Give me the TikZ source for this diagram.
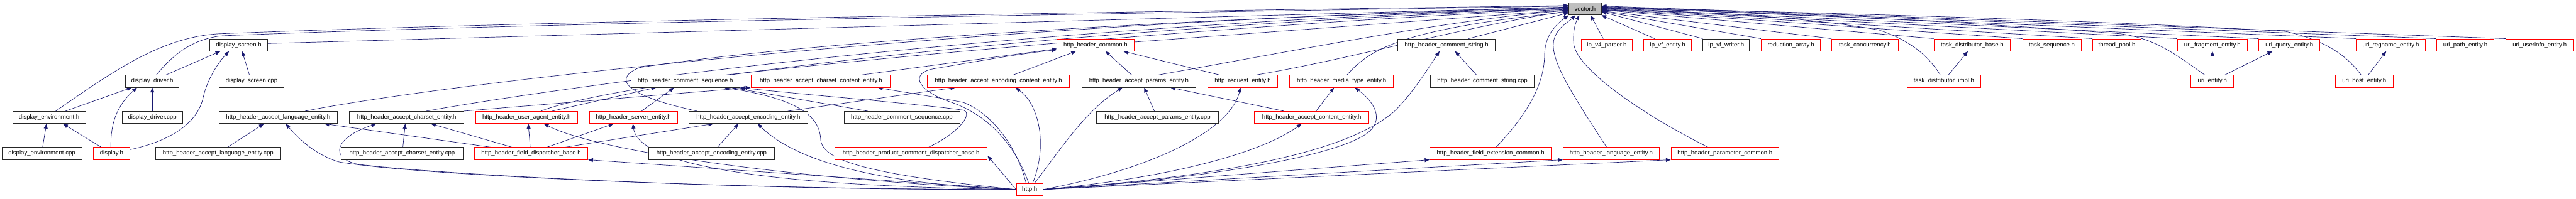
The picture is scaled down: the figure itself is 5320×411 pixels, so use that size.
\documentclass[tikz,border=0pt]{standalone}
\usepackage{fontspec}
\setmainfont{Liberation Sans}
\usetikzlibrary{arrows.meta}
\definecolor{edgec}{RGB}{25,25,112}
\definecolor{redc}{RGB}{255,0,0}
\definecolor{grayc}{RGB}{191,191,191}
\pgfdeclarelayer{bg}
\pgfsetlayers{bg,main}
\newcommand\nd[6]{\node[#1, minimum width={(#4-#3)*1pt}] (#2) at ({(#3+#4)/2},#5) {#6};}
\begin{document}
\begin{tikzpicture}[x=1pt,y=-1pt,
  bk/.style={draw=black!85, line width=1.2pt, rectangle, minimum height=25pt, inner sep=0pt, fill=white, font=\fontsize{12.5}{15}\selectfont},
  rd/.style={bk, draw=redc},
  edge/.style={draw=edgec, line width=0.9pt, -{Triangle[length=10pt,width=8pt]}},
]
\useasboundingbox (0,0) rectangle (5320,411);
% ---------- nodes ----------
\nd{bk,fill=grayc}{vec}{3240}{3307}{18.5}{vector.h}
% row 1
\nd{bk}{dscr}{433}{553}{93}{display\_screen.h}
\nd{rd}{hcommon}{2183}{2342}{93}{http\_header\_common.h}
\nd{bk}{cstr}{2887}{3088}{93}{http\_header\_comment\_string.h}
\nd{rd}{ipv4}{3266}{3371}{93}{ip\_v4\_parser.h}
\nd{rd}{ipvfe}{3395}{3493}{93}{ip\_vf\_entity.h}
\nd{bk}{ipvfw}{3517}{3613}{93}{ip\_vf\_writer.h}
\nd{rd}{redarr}{3637}{3760}{93}{reduction\_array.h}
\nd{rd}{tconc}{3783}{3920}{93}{task\_concurrency.h}
\nd{rd}{tdb}{3994}{4152}{93}{task\_distributor\_base.h}
\nd{rd}{tseq}{4177}{4298}{93}{task\_sequence.h}
\nd{rd}{tpool}{4322}{4422}{93}{thread\_pool.h}
\nd{rd}{ufrag}{4497}{4641}{93}{uri\_fragment\_entity.h}
\nd{rd}{uquery}{4665}{4791}{93}{uri\_query\_entity.h}
\nd{rd}{uregn}{4866}{5009}{93}{uri\_regname\_entity.h}
\nd{rd}{upath}{5032}{5151}{93}{uri\_path\_entity.h}
\nd{rd}{uuser}{5175}{5315}{93}{uri\_userinfo\_entity.h}
% row 2
\nd{bk}{ddrv}{259}{370}{168}{display\_driver.h}
\nd{bk}{dscrcpp}{452}{587}{168}{display\_screen.cpp}
\nd{bk}{cseq}{1303}{1528}{168}{http\_header\_comment\_sequence.h}
\nd{rd}{accc}{1552}{1839}{168}{http\_header\_accept\_charset\_content\_entity.h}
\nd{rd}{aecc}{1915}{2209}{168}{http\_header\_accept\_encoding\_content\_entity.h}
\nd{bk}{aparams}{2234}{2470}{168}{http\_header\_accept\_params\_entity.h}
\nd{rd}{reqent}{2494}{2639}{168}{http\_request\_entity.h}
\nd{rd}{media}{2663}{2878}{168}{http\_header\_media\_type\_entity.h}
\nd{bk}{cstrcpp}{2954}{3169}{168}{http\_header\_comment\_string.cpp}
\nd{rd}{tdi}{3938}{4091}{168}{task\_distributor\_impl.h}
\nd{rd}{uent}{4525}{4613}{168}{uri\_entity.h}
\nd{rd}{uhost}{4823}{4942}{168}{uri\_host\_entity.h}
% row 3
\nd{bk}{denv}{26}{177}{243}{display\_environment.h}
\nd{bk}{ddrvcpp}{252}{377}{243}{display\_driver.cpp}
\nd{bk}{alang}{452}{697}{243}{http\_header\_accept\_language\_entity.h}
\nd{bk}{acs}{722}{958}{243}{http\_header\_accept\_charset\_entity.h}
\nd{rd}{uagent}{982}{1193}{243}{http\_header\_user\_agent\_entity.h}
\nd{rd}{server}{1217}{1399}{243}{http\_header\_server\_entity.h}
\nd{bk}{aenc}{1423}{1668}{243}{http\_header\_accept\_encoding\_entity.h}
\nd{bk}{cseqcpp}{1743}{1982}{243}{http\_header\_comment\_sequence.cpp}
\nd{bk}{aparamscpp}{2265}{2516}{243}{http\_header\_accept\_params\_entity.cpp}
\nd{rd}{acont}{2591}{2827}{243}{http\_header\_accept\_content\_entity.h}
% row 4
\nd{bk}{denvcpp}{4}{169}{317.5}{display\_environment.cpp}
\nd{rd}{disp}{193}{268}{317.5}{display.h}
\nd{bk}{alangcpp}{321}{580}{317.5}{http\_header\_accept\_language\_entity.cpp}
\nd{bk}{acscpp}{705}{956}{317.5}{http\_header\_accept\_charset\_entity.cpp}
\nd{rd}{fdb}{980}{1214}{317.5}{http\_header\_field\_dispatcher\_base.h}
\nd{bk}{aenccpp}{1340}{1599}{317.5}{http\_header\_accept\_encoding\_entity.cpp}
\nd{rd}{pcdb}{1724}{2039}{317.5}{http\_header\_product\_comment\_dispatcher\_base.h}
\nd{rd}{fext}{2953}{3204}{317.5}{http\_header\_field\_extension\_common.h}
\nd{rd}{lang}{3228}{3427}{317.5}{http\_header\_language\_entity.h}
\nd{rd}{param}{3451}{3674}{317.5}{http\_header\_parameter\_common.h}
% row 5
\nd{rd}{http}{2099}{2154}{392}{http.h}
% ---------- edges ----------
\begin{pgfonlayer}{bg}
\begin{scope}[every path/.append style={edge}]
% display group
\draw ([xshift=13.5pt]denv.north) .. controls (230,150) and (330,78) .. (450,70) .. controls (1200,40) and (2500,22) .. ([yshift=7pt]vec.west);
\draw ([xshift=8.5pt]ddrv.north) .. controls (360,110) and (400,80) .. (460,74) .. controls (1200,44) and (2500,25) .. ([yshift=6pt]vec.west);
\draw ([xshift=28.5pt]ddrv.north) -- ([xshift=-38pt]dscr.south);
\draw ([yshift=3pt]dscr.east) -- ([yshift=4pt]vec.west);
\draw ([xshift=-4.5pt]dscrcpp.north) -- ([xshift=7pt]dscr.south);
\draw ([yshift=8pt]disp.east) .. controls (360,290) and (410,250) .. (420,200) .. controls (428,165) and (450,130) .. ([xshift=-20pt]dscr.south);
\draw ([xshift=33.5pt]denv.north) -- ([xshift=-42.5pt]ddrv.south);
\draw ([xshift=-1.5pt]disp.north) .. controls (228,250) and (245,215) .. ([xshift=-31.5pt]ddrv.south);
\draw (ddrvcpp.north) -- (ddrv.south);
\draw ([xshift=1.5pt]denvcpp.north) -- ([xshift=-5.5pt]denv.south);
\draw ([xshift=-21.5pt]disp.north) -- ([xshift=28.5pt]denv.south);
% accept language / charset
\draw ([xshift=55.5pt]alang.north) .. controls (900,175) and (2000,45) .. ([yshift=3pt]vec.west);
\draw ([xshift=19.5pt]alangcpp.north) -- ([xshift=-29.5pt]alang.south);
\draw (http.west) .. controls (1500,392) and (850,362) .. (700,335) .. controls (650,320) and (615,285) .. ([xshift=15.5pt]alang.south);
\draw ([xshift=-84pt]fdb.north) -- ([xshift=95.5pt]alang.south);
\draw ([xshift=40pt]acs.north) .. controls (1100,190) and (2000,55) .. ([yshift=2pt]vec.west);
\draw ([xshift=1.5pt]acscpp.north) -- ([xshift=-3pt]acs.south);
\draw (http.west) .. controls (1500,394) and (900,360) .. (740,340) .. controls (680,328) and (690,285) .. ([xshift=-63pt]acs.south);
\draw ([xshift=-40pt]fdb.north) -- ([xshift=50pt]acs.south);
\draw ([xshift=117pt]acs.north) -- ([xshift=-145.5pt]accc.south);
% user agent / server / dispatcher
\draw ([xshift=29.5pt]uagent.north) .. controls (1250,175) and (2100,60) .. ([yshift=1pt]vec.west);
\draw ([xshift=52.5pt]uagent.north) -- ([xshift=-60.5pt]cseq.south);
\draw ([xshift=-2pt]fdb.north) -- ([xshift=3.5pt]uagent.south);
\draw (http.west) .. controls (1700,375) and (1250,320) .. ([xshift=35.5pt]uagent.south);
\draw ([xshift=33pt]fdb.north) -- ([xshift=-41pt]server.south);
\draw ([xshift=17pt]server.north) -- ([xshift=-23.5pt]cseq.south);
\draw (http.west) .. controls (1600,385) and (1320,345) .. ([xshift=-1pt]server.south);
\draw (http.west) -- (fdb.south east);
\draw ([xshift=71pt]fdb.north) -- ([xshift=-72.5pt]aenc.south);
% accept encoding / comment sequence
\draw ([xshift=-105.5pt]aenc.north) .. controls (1300,200) and (1260,165) .. (1320,140) .. controls (1700,80) and (2600,30) .. (vec.west);
\draw ([xshift=81.5pt]aenc.north) -- ([xshift=-89pt]aecc.south);
\draw ([xshift=12.5pt]aenccpp.north) -- ([xshift=-20.5pt]aenc.south);
\draw (http.west) .. controls (1800,380) and (1640,330) .. ([xshift=19.5pt]aenc.south);
\draw ([xshift=84.5pt]cseq.north) .. controls (1900,110) and (2700,40) .. ([yshift=-1pt]vec.west);
\draw ([xshift=-70.5pt]cseqcpp.north) -- ([xshift=95pt]cseq.south);
\draw ([xshift=36.5pt]pcdb.north) .. controls (1980,275) and (2010,235) .. (1990,228) .. controls (1900,215) and (1650,195) .. (cseq.south east);
\draw (http.west) .. controls (1780,360) and (1700,330) .. (1695,290) .. controls (1693,240) and (1650,205) .. ([xshift=80pt]cseq.south);
\draw (http.west) -- ([yshift=-5pt]pcdb.east);
% charset content / encoding content / common
\draw ([xshift=-7.5pt]http.north) .. controls (2105,320) and (2060,240) .. (1990,212) .. controls (1930,200) and (1860,190) .. ([xshift=117.5pt]accc.south);
\draw ([xshift=-2pt]http.north) .. controls (2100,310) and (2050,240) .. (1960,210) .. controls (1890,185) and (1880,150) .. (1930,142) .. controls (2000,130) and (2100,112) .. ([yshift=-10pt]hcommon.west);
\draw ([xshift=84.5pt]accc.north) -- ([yshift=-8pt]hcommon.west);
\draw ([xshift=31pt]aecc.north) -- ([xshift=-40.5pt]hcommon.south);
\draw ([xshift=6pt]http.north) .. controls (2165,300) and (2145,215) .. ([xshift=35pt]aecc.south);
\draw ([yshift=6pt]hcommon.east) -- ([yshift=-2pt]vec.west);
\draw ([xshift=-15pt]aparams.north) -- ([xshift=20.5pt]hcommon.south);
\draw ([xshift=-48.5pt]reqent.north) -- ([xshift=57.5pt]hcommon.south);
\draw ([xshift=41pt]aparams.north) .. controls (2700,100) and (3000,40) .. ([yshift=-3pt]vec.west);
\draw ([xshift=28.5pt]reqent.north) .. controls (2800,120) and (3000,60) .. ([yshift=-4pt]vec.west);
\draw ([xshift=-6.5pt]aparamscpp.north) -- ([xshift=11pt]aparams.south);
\draw ([xshift=-57pt]acont.north) -- ([xshift=65pt]aparams.south);
\draw ([xshift=10pt]http.north) .. controls (2190,310) and (2240,230) .. ([xshift=-34pt]aparams.south);
\draw (http.east) .. controls (2380,350) and (2540,270) .. ([xshift=-4.5pt]reqent.south);
% media / content / comment string
\draw ([xshift=11.5pt]media.north) .. controls (2830,100) and (2900,60) .. ([yshift=-6pt]vec.west);
\draw ([xshift=9pt]acont.north) -- ([xshift=-15.5pt]media.south);
\draw (http.east) .. controls (2500,370) and (2780,320) .. (2830,270) .. controls (2860,240) and (2830,205) .. ([xshift=27.5pt]media.south);
\draw (http.east) .. controls (2400,370) and (2600,320) .. ([xshift=-21pt]acont.south);
\draw (http.east) .. controls (2600,360) and (2800,300) .. (2880,230) .. controls (2920,190) and (2950,140) .. ([xshift=-14.5pt]cstr.south);
\draw ([xshift=-12.5pt]cstrcpp.north) -- ([xshift=17.5pt]cstr.south);
\draw ([xshift=45.5pt]cstr.north) -- ([yshift=-8pt]vec.west);
\draw (http.east) -- (fext.south west);
\draw (http.east) -- (lang.south west);
\draw (http.east) -- (param.south west);
\draw ([xshift=11.5pt]fext.north) .. controls (3160,230) and (3190,170) .. (3190,110) .. controls (3192,70) and (3215,50) .. (vec.south west);
\draw ([xshift=-9.5pt]lang.north) .. controls (3250,200) and (3205,130) .. (3208,90) .. controls (3210,60) and (3240,45) .. ([xshift=-20pt]vec.south);
\draw ([xshift=-35.5pt]param.north) .. controls (3380,230) and (3255,140) .. (3250,90) .. controls (3248,60) and (3255,45) .. ([xshift=-12pt]vec.south);
% right side
\draw ([xshift=-7.5pt]ipv4.north) -- ([xshift=11.5pt]vec.south);
\draw ([xshift=-27pt]ipvfe.north) -- (vec.south east);
\draw (ipvfw.north west) -- ([yshift=-6pt]vec.east);
\draw (redarr.north west) -- ([yshift=-5pt]vec.east);
\draw (tconc.north west) -- ([yshift=-4pt]vec.east);
\draw (tdb.north west) -- ([yshift=-2pt]vec.east);
\draw (tseq.north west) -- ([yshift=-1pt]vec.east);
\draw (tpool.north west) -- (vec.east);
\draw (ufrag.north west) -- ([yshift=1pt]vec.east);
\draw (uquery.north west) -- ([yshift=2pt]vec.east);
\draw (uregn.north west) -- ([yshift=4pt]vec.east);
\draw (upath.north west) -- ([yshift=5pt]vec.east);
\draw (uuser.north west) -- ([yshift=6pt]vec.east);
\draw ([xshift=-7.5pt]tdi.north) .. controls (3985,120) and (3950,85) .. (3880,62) .. controls (3700,30) and (3450,22) .. ([yshift=-3pt]vec.east);
\draw ([xshift=9.5pt]tdi.north) -- ([xshift=-9pt]tdb.south);
\draw ([xshift=-16pt]uent.north) .. controls (4490,110) and (4450,80) .. (4380,70) .. controls (4000,40) and (3600,25) .. ([yshift=2pt]vec.east);
\draw (uent.north) -- (ufrag.south);
\draw ([xshift=26pt]uent.north) -- ([xshift=-35pt]uquery.south);
\draw ([xshift=-6.5pt]uhost.north) .. controls (4850,120) and (4810,85) .. (4720,65) .. controls (4300,40) and (3700,25) .. ([yshift=3pt]vec.east);
\draw ([xshift=8.5pt]uhost.north) -- ([xshift=-9.5pt]uregn.south);
\end{scope}
\end{pgfonlayer}
\end{tikzpicture}
\end{document}
